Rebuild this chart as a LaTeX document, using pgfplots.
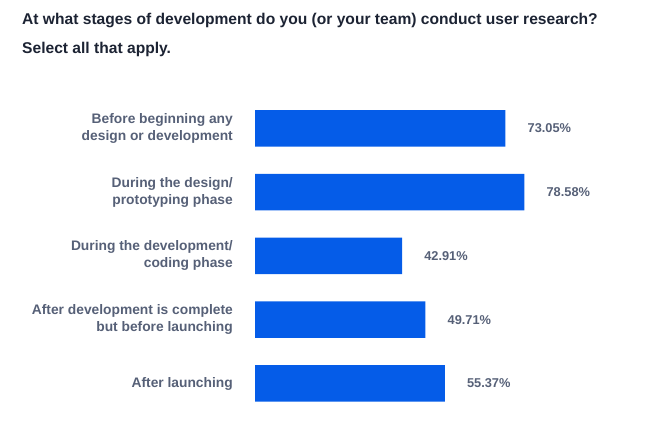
\documentclass[border=0pt]{standalone}
\usepackage{fontspec}
\setmainfont{Liberation Sans}
\usepackage{pgfplots}
\pgfplotsset{compat=1.18}
\definecolor{barblue}{HTML}{055CE8}
\definecolor{lblgray}{HTML}{566077}
\definecolor{titlecol}{HTML}{1C2333}
\begin{document}
\begin{tikzpicture}[x=1pt,y=1pt]
\path[use as bounding box] (0,0) rectangle (658,446);
\node[anchor=base west, inner sep=0pt, font=\fontsize{15.6}{18}\selectfont\bfseries, text=titlecol] at (22,421) {At what stages of development do you (or your team) conduct user research?};
\node[anchor=base west, inner sep=0pt, font=\fontsize{15.6}{18}\selectfont\bfseries, text=titlecol] at (22,392) {Select all that apply.};
\begin{axis}[
  at={(255pt,30.6pt)}, anchor=south west,
  scale only axis, width=300pt, height=319pt,
  xmin=0, xmax=87.5, ymin=-0.5, ymax=4.5,
  xbar, bar width=36.5pt, bar shift=0pt,
  axis line style={draw=none},
  xtick=\empty,
  ytick={0,1,2,3,4},
  yticklabels={After launching, {After development is complete\\but before launching}, {During the development/\\coding phase}, {During the design/\\prototyping phase}, {Before beginning any\\design or development}},
  major tick length=0pt,
  yticklabel style={align=right, inner sep=0pt, xshift=-22pt, font=\fontsize{13.8}{17}\selectfont\bfseries, text=lblgray},
  clip=false,
  point meta=explicit symbolic,
  nodes near coords,
  nodes near coords style={anchor=west, inner sep=0pt, xshift=22pt, font=\fontsize{12.8}{15}\selectfont\bfseries, text=lblgray},
]
\addplot[draw=none, fill=barblue] coordinates {
  (55.37,0) [55.37\%]
  (49.71,1) [49.71\%]
  (42.91,2) [42.91\%]
  (78.58,3) [78.58\%]
  (73.05,4) [73.05\%]
};
\end{axis}
\end{tikzpicture}
\end{document}
